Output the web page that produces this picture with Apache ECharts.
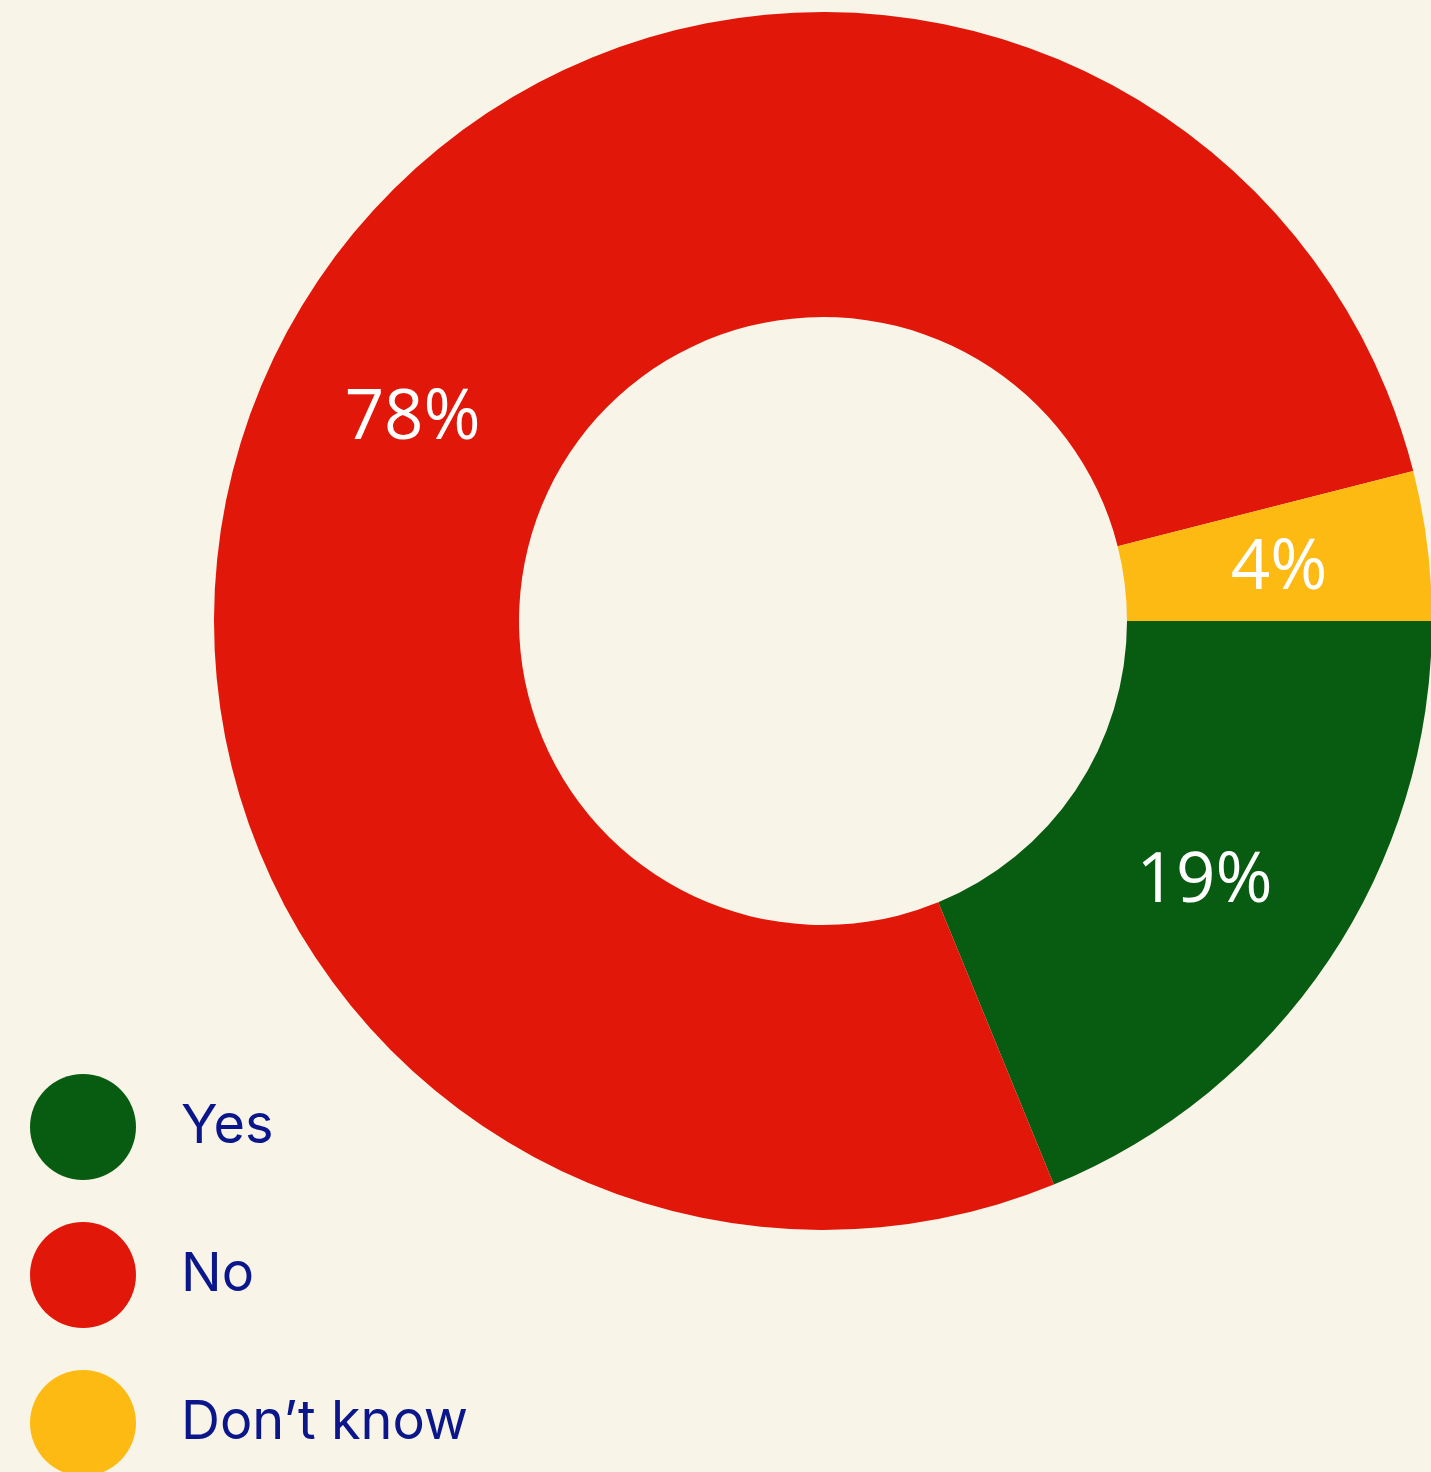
<!DOCTYPE html>
<html>
<head>
<meta charset="utf-8">
<script src="https://cdn.jsdelivr.net/npm/echarts@6/dist/echarts.min.js"></script>
<style>
html,body{margin:0;padding:0;background:#F8F4E7;overflow:hidden;}
#chart{width:1431px;height:1540px;}
</style>
</head>
<body>
<div id="chart"></div>
<script>
const categories = ['Yes', 'No', 'Don\u2019t know'];
const values = [19, 78, 4];
const colors = ['#085C12', '#E1170A', '#FDBA13'];

const chart = echarts.init(document.getElementById('chart'));
chart.setOption({
  backgroundColor: '#F8F4E7',
  animation: false,
  legend: {
    orient: 'vertical',
    left: 30,
    top: 1074,
    padding: 0,
    icon: 'circle',
    itemWidth: 106,
    itemHeight: 106,
    itemGap: 42,
    data: categories,
    textStyle: {
      color: '#0A168A',
      fontFamily: 'Inter',
      fontSize: 54,
      padding: [0, 0, 0, 40]
    }
  },
  series: [{
    type: 'pie',
    center: [823, 621],
    radius: [304, 609],
    startAngle: 0,
    clockwise: true,
    avoidLabelOverlap: false,
    label: {
      show: true,
      position: 'inside',
      formatter: '{c}%',
      color: '#ffffff',
      fontFamily: 'Open Sans',
      fontSize: 69,
      offset: [0, 5]
    },
    labelLine: { show: false },
    itemStyle: { borderWidth: 0 },
    data: categories.map((c, i) => ({ name: c, value: values[i], itemStyle: { color: colors[i] } }))
  }]
});
</script>
</body>
</html>
